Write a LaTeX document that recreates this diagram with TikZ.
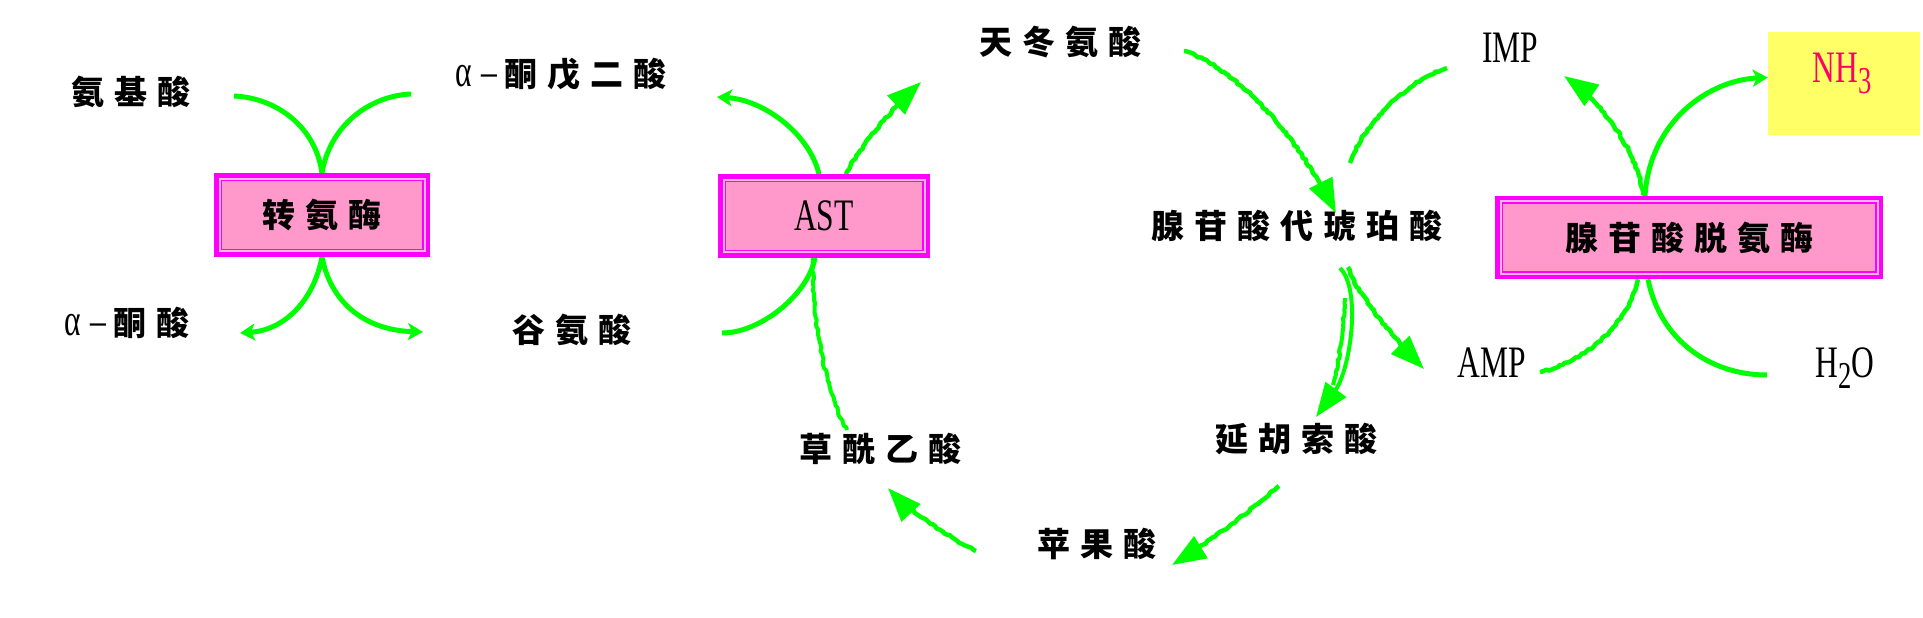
\documentclass[tikz,border=0pt]{standalone}
\usepackage{fontspec}
\usepackage{graphicx}
\usetikzlibrary{arrows.meta,decorations.pathmorphing,backgrounds,calc}
\newfontfamily\cjkf{Noto Sans CJK SC}
\newfontfamily\latf{Liberation Serif}
\newcommand\cjt[1]{{\fontsize{33}{40}\selectfont\cjkf\bfseries #1}}
\newcommand\gp{\hspace{10pt}}
\newcommand\latx[1]{\scalebox{0.7}[1]{\fontsize{45}{50}\selectfont\latf\mdseries #1}}
\newcommand\sbs[1]{\raisebox{-11pt}{\fontsize{38}{40}\selectfont #1}}
\definecolor{grn}{HTML}{00FF00}
\definecolor{mag}{HTML}{FF00FF}
\definecolor{bpink}{HTML}{FF99CC}
\definecolor{lpink}{HTML}{FFB8E0}
\definecolor{ylw}{HTML}{FFFF66}
\definecolor{nhred}{HTML}{FF0066}
\tikzset{
  enz/.style={draw=mag, line width=4.5pt, fill=bpink, inner sep=0pt,
    minimum height=79pt, minimum width=#1,
    path picture={
      \draw[lpink, line width=2pt]
        ([shift={(3.25pt,-3.25pt)}]path picture bounding box.north west) rectangle
        ([shift={(-3.25pt,3.25pt)}]path picture bounding box.south east);
      \draw[mag, line width=1.4pt]
        ([shift={(4.95pt,-4.95pt)}]path picture bounding box.north west) rectangle
        ([shift={(-4.95pt,4.95pt)}]path picture bounding box.south east);
    }},
  txt/.style={inner sep=0pt, text=black},
  flow/.style={grn, line width=5pt},
  sarr/.style={flow, -{Stealth[length=15pt,width=17pt,inset=4pt]}},
  wavy/.style={grn, line width=4.5pt, line join=round, decorate,
    decoration={random steps, segment length=3pt, amplitude=1pt, post length=8pt}},
  bighead/.style={-{Triangle[length=34pt,width=25pt]}},
  warr/.style={wavy, bighead},
}
\begin{document}
\begin{tikzpicture}[x=1pt,y=-1pt]
\useasboundingbox (0,0) rectangle (1923,618);
\pgfmathsetseed{7}
% ---------- nodes ----------
\node[enz=211.5pt] (ta) at (322,215) {\cjt{转\gp 氨\gp 酶}};
\node[enz=207.5pt] (ast) at (824,216) {\latx{AST}};
\node[enz=383.5pt] (ada) at (1689,237.5) {\cjt{腺\gp 苷\gp 酸\gp 脱\gp 氨\gp 酶}};
\node[fill=ylw, inner sep=0pt, minimum width=152pt, minimum height=103pt] (nh) at (1844,83.5) {};
\node[txt, anchor=base, text=nhred] (nht) at (1842,82) {\latx{NH\sbs{3}}};

\node[txt] (aa) at (131,92) {\cjt{氨\gp 基\gp 酸}};
\node[txt] (akg) at (561,74) {\cjt{\latx{α}\hspace{10pt}\latx{–}\hspace{7pt}酮\gp 戊\gp 二\gp 酸}};
\node[txt] (ka) at (127,323) {\cjt{\latx{α}\hspace{10pt}\latx{–}\hspace{7pt}酮\gp 酸}};
\node[txt] (glu) at (572,330) {\cjt{谷\gp 氨\gp 酸}};
\node[txt] (asp) at (1060,42) {\cjt{天\gp 冬\gp 氨\gp 酸}};
\node[txt] (ams) at (1297,226) {\cjt{腺\gp 苷\gp 酸\gp 代\gp 琥\gp 珀\gp 酸}};
\node[txt] (fum) at (1296,439) {\cjt{延\gp 胡\gp 索\gp 酸}};
\node[txt] (mal) at (1097,544) {\cjt{苹\gp 果\gp 酸}};
\node[txt] (oaa) at (880,449) {\cjt{草\gp 酰\gp 乙\gp 酸}};
\node[txt, anchor=base] (amp) at (1492,377) {\latx{AMP}};
\node[txt, anchor=base] (imp) at (1510,63) {\latx{IMP}};
\node[txt, anchor=base] (h2o) at (1845,377) {\latx{H\sbs{2}O}};

% ---------- connector end points ----------
\coordinate (aaR) at (234,96);
\coordinate (akgL) at (411,94);
\coordinate (kaR) at (240,333);
\coordinate (gluL) at (423,332);
\coordinate (akgR) at (717,97);
\coordinate (gluR) at (722,333);
\coordinate (aspL) at (921,82);
\coordinate (oaaT) at (847,430);
\coordinate (aspR) at (1184,51);
\coordinate (amsT) at (1336,213);
\coordinate (impL) at (1447,68);
\coordinate (amsTR) at (1350,163);
\coordinate (amsB1) at (1348,267);
\coordinate (ampL) at (1424,369);
\coordinate (amsB2) at (1340,268);
\coordinate (fumT) at (1316,417);
\coordinate (extA) at (1345,298);
\coordinate (extB) at (1333,385);
\coordinate (fumB) at (1279,486);
\coordinate (malR) at (1172,565);
\coordinate (malL) at (976,551);
\coordinate (oaaB) at (888,488);
\coordinate (impB) at (1564,76);
\coordinate (ampR) at (1540,372);
\coordinate (h2oL) at (1767,375);

\begin{pgfonlayer}{background}
\fill[white] (0,0) rectangle (1923,618);
% transaminase
\draw[flow] (aaR) .. controls (278,98) and (316,128) .. (ta.north);
\draw[flow] (akgL) .. controls (367,96) and (329,128) .. (ta.north);
\draw[sarr] (ta.south) .. controls (314,300) and (285,330) .. (kaR);
\draw[sarr] (ta.south) .. controls (330,300) and (362,330) .. (gluL);
% AST
\draw[sarr] ([xshift=-5pt]ast.north) .. controls (810,135) and (765,100) .. (akgR);
\draw[flow] (gluR) .. controls (760,333) and (808,295) .. ([xshift=-9pt]ast.south);
\draw[warr] ([xshift=22pt]ast.north) .. controls (858,150) and (890,110) .. (aspL);
\draw[wavy, line width=4pt] (oaaT) .. controls (822,385) and (812,310) .. ([xshift=-11pt]ast.south);
% cycle
\draw[warr] (aspR) .. controls (1240,70) and (1300,140) .. (amsT);
\draw[wavy] (impL) .. controls (1410,80) and (1365,120) .. (amsTR);
\draw[warr] (amsB1) .. controls (1355,290) and (1390,335) .. (ampL);
\draw[flow, line width=4pt, bighead] (amsB2) .. controls (1362,290) and (1350,370) .. (fumT);
\draw[wavy, line width=4pt] (extA) .. controls (1343,330) and (1340,360) .. (extB);
\draw[warr] (fumB) .. controls (1245,515) and (1205,545) .. (malR);
\draw[warr] (malL) .. controls (945,535) and (905,508) .. (oaaB);
% adenylate deaminase
\draw[warr] ([xshift=-46pt]ada.north) .. controls (1638,150) and (1600,100) .. (impB);
\draw[sarr] ([xshift=-44pt]ada.north) .. controls (1650,120) and (1710,80) .. ([yshift=6pt]nh.west);
\draw[wavy] (ampR) .. controls (1590,360) and (1630,320) .. ([xshift=-51pt]ada.south);
\draw[flow] ([xshift=-41pt]ada.south) .. controls (1660,340) and (1710,375) .. (h2oL);
\end{pgfonlayer}
\end{tikzpicture}
\end{document}
